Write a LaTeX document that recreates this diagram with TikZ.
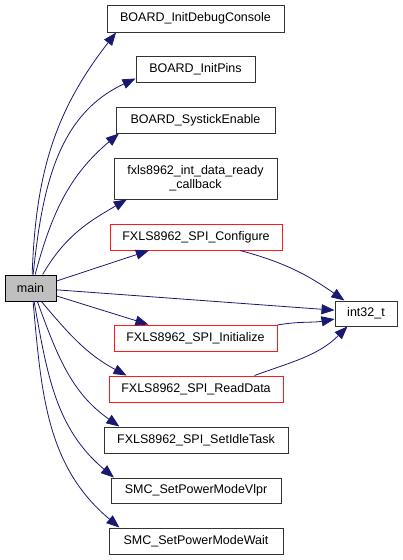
\documentclass[tikz,border=0pt]{standalone}
\usepackage{fontspec}
\setmainfont{Liberation Sans}
\usetikzlibrary{arrows.meta}
\definecolor{edgeBlue}{RGB}{25,25,112}
\definecolor{rootGray}{RGB}{191,191,191}
\tikzset{
	fn/.style={
		draw=black!80,
		line width=1pt,
		minimum height=26pt,
		inner sep=2pt,
		align=center,
		fill=white,
		font=\fontsize{12.5}{14}\selectfont,
	},
	trunc/.style={fn, draw=red!90},
	root/.style={fn, draw=black, fill=rootGray},
	call/.style={
		-{Triangle[length=13pt,width=10pt]},
		line width=0.8pt,
		draw=edgeBlue,
	}
}
\begin{document}
\begin{tikzpicture}[x=1pt,y=1pt]
	\useasboundingbox (0,0) rectangle (403,-560);
	% --- Caller ---
	\node[root, minimum width=51pt] (main) at (30.5,-288) {main};
	
	% --- Callees ---
	\node[fn, minimum width=177pt, minimum height=27pt] (dbg) at (195.5,-18.5) {BOARD\_InitDebugConsole};
	\node[fn, minimum width=119pt] (pins) at (195.5,-69) {BOARD\_InitPins};
	\node[fn, minimum width=159pt] (systick) at (195.5,-120) {BOARD\_SystickEnable};
	\node[fn, minimum width=163pt, minimum height=41pt] (ready) at (195.5,-178.5) {fxls8962\_int\_data\_ready\\\_callback};
	\node[trunc, minimum width=172pt] (config) at (196,-237) {FXLS8962\_SPI\_Configure};
	\node[fn, minimum width=62pt, minimum height=25pt] (int) at (366,-313.5) {int32\_t};
	\node[trunc, minimum width=163pt] (init) at (195.5,-338) {FXLS8962\_SPI\_Initialize};
	\node[trunc, minimum width=174pt] (read) at (196,-389) {FXLS8962\_SPI\_ReadData};
	\node[fn, minimum width=184pt] (idle) at (196,-440) {FXLS8962\_SPI\_SetIdleTask};
	\node[fn, minimum width=170pt, minimum height=25pt] (vlpr) at (196,-490.5) {SMC\_SetPowerModeVlpr};
	\node[fn, minimum width=174pt] (wait) at (196,-541) {SMC\_SetPowerModeWait};
	
	% --- Calls from main ---
	\draw[call] (main.83) to[out=88,in=-128] (dbg.-170);
	\draw[call] (main.79) to[out=84,in=-155] (pins.-171);
	\draw[call] (main.71) to[out=75,in=-140] (systick.-170);
	\draw[call] (main.48) to[out=60,in=-150] (ready.-163);
	\draw[call] (main.15) -- (config.-164);
	\draw[call] (main.-4) -- (int.174);
	\draw[call] (main.-17) -- (init.164);
	\draw[call] (main.-51) to[out=-50,in=152] (read.169);
	\draw[call] (main.-63) to[out=-70,in=145] (idle.170);
	\draw[call] (main.-75) to[out=-80,in=140] (vlpr.171);
	\draw[call] (main.-79) to[out=-85,in=140] (wait.170);
	
	% --- Calls into int32_t ---
	\draw[call] (config.-17) to[out=-15,in=145] (int.149);
	\draw[call] (init.9) to[out=10,in=-170] (int.-170);
	\draw[call] (read.13) to[out=20,in=-135] (int.-145);
\end{tikzpicture}
\end{document}
